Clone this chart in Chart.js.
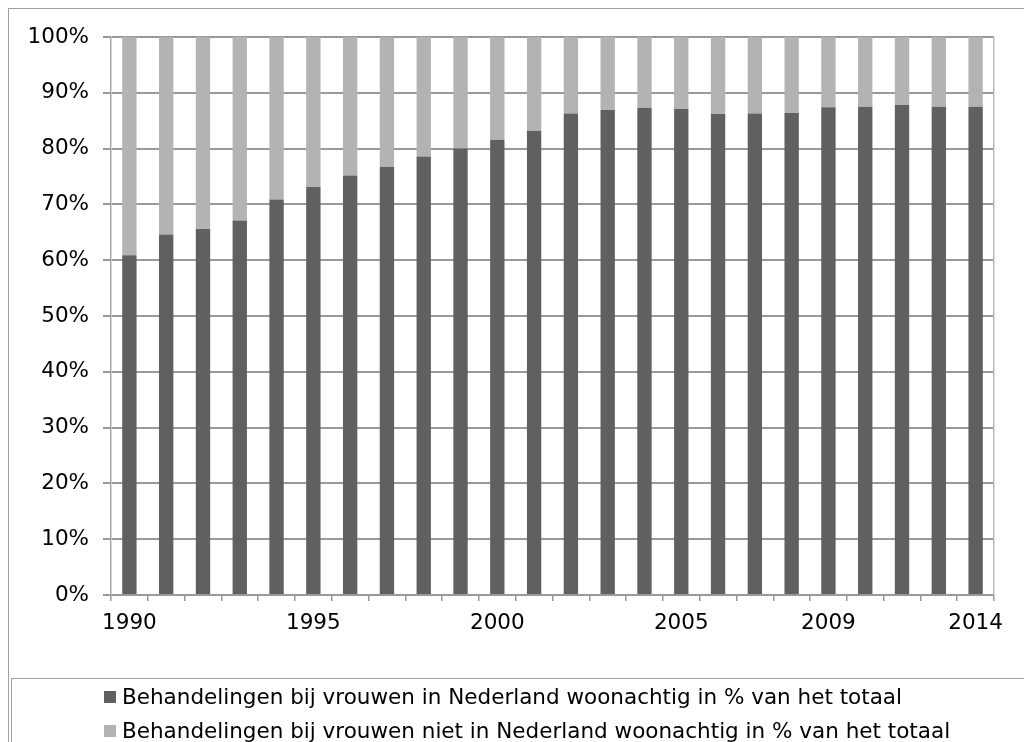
<!DOCTYPE html>
<html>
<head>
<meta charset="utf-8">
<script src="https://cdn.jsdelivr.net/npm/chart.js@4/dist/chart.umd.min.js"></script>
<style>
  html, body { margin: 0; padding: 0; background: #fff; }
  body { width: 1024px; height: 742px; position: relative; overflow: hidden; font-family: "DejaVu Sans", Verdana, sans-serif; }
  #c { position: absolute; left: 0; top: 0; }
  #outer { position: absolute; left: 8px; top: 8px; width: 1040px; height: 760px; border: 1.5px solid #a0a0a0; box-sizing: border-box; pointer-events: none; }
  #legbox { position: absolute; left: 11px; top: 678px; width: 1040px; height: 100px; border-top: 1.5px solid #a0a0a0; border-left: 1.5px solid #a0a0a0; box-sizing: border-box; pointer-events: none; }
  #legend { position: absolute; left: 104px; top: 680px; }
  .row { height: 34px; line-height: 34px; white-space: nowrap; font-size: 21.5px; color: #000; display: flex; align-items: center; }
  .sw { display: inline-block; width: 12px; height: 12px; margin-right: 6px; }
</style>
</head>
<body>
<canvas id="c" width="1024" height="742"></canvas>
<div id="outer"></div>
<div id="legbox"></div>
<div id="legend"></div>
<script>
// Category tick labels (only some categories carry a visible label)
const categories = ['1990','','','','','1995','','','','','2000','','','','','2005','','','','2009','','','','2014'];

// Series names
const seriesNames = [
  'Behandelingen bij vrouwen in Nederland woonachtig in % van het totaal',
  'Behandelingen bij vrouwen niet in Nederland woonachtig in % van het totaal'
];

// Values (percent of total)
const residentShare = [60.9, 64.6, 65.6, 67.1, 70.9, 73.1, 75.2, 76.7, 78.6, 80.0, 81.6, 83.2, 86.3, 86.9, 87.3, 87.1, 86.2, 86.3, 86.4, 87.4, 87.5, 87.8, 87.5, 87.5];
const nonResidentShare = [39.1, 35.4, 34.4, 32.9, 29.1, 26.9, 24.8, 23.3, 21.4, 20.0, 18.4, 16.8, 13.7, 13.1, 12.7, 12.9, 13.8, 13.7, 13.6, 12.6, 12.5, 12.2, 12.5, 12.5];

const colors = ['#606060', '#b3b3b3'];
const FONT = { family: 'DejaVu Sans', size: 21.5 };

const chart = new Chart(document.getElementById('c'), {
  type: 'bar',
  data: {
    labels: categories,
    datasets: [
      { label: seriesNames[0], data: residentShare, backgroundColor: colors[0], barPercentage: 0.39, categoryPercentage: 1 },
      { label: seriesNames[1], data: nonResidentShare, backgroundColor: colors[1], barPercentage: 0.39, categoryPercentage: 1 }
    ]
  },
  options: {
    responsive: false,
    animation: false,
    layout: { padding: { left: 0, top: 37, right: 30, bottom: 0 } },
    plugins: { legend: { display: false }, tooltip: { enabled: false } },
    scales: {
      x: {
        stacked: true,
        offset: true,
        grid: { offset: true, drawOnChartArea: false, drawTicks: true, tickLength: 6, color: '#999', lineWidth: 1.5 },
        border: { color: '#999', width: 2 },
        ticks: { autoSkip: false, maxRotation: 0, minRotation: 0, color: '#000', font: FONT, padding: 10 },
        afterFit(a) { a.height = 147; }
      },
      y: {
        stacked: true,
        min: 0, max: 100,
        grid: { color: '#999', lineWidth: 2, tickLength: 8 },
        border: { color: '#aaa', width: 1.5 },
        ticks: { stepSize: 10, color: '#000', font: FONT, padding: 14, callback: v => v + '%' },
        afterFit(a) { a.width = 111; }
      },
      y2: {
        position: 'right',
        min: 0, max: 100,
        grid: { drawOnChartArea: false, drawTicks: false },
        border: { color: '#bbb', width: 1.5 },
        ticks: { display: false },
        afterFit(a) { a.width = 0; }
      }
    }
  }
});

// HTML legend built from the chart's datasets
const leg = document.getElementById('legend');
chart.data.datasets.forEach(ds => {
  const row = document.createElement('div');
  row.className = 'row';
  const sw = document.createElement('span');
  sw.className = 'sw';
  sw.style.background = ds.backgroundColor;
  const t = document.createElement('span');
  t.textContent = ds.label;
  row.appendChild(sw);
  row.appendChild(t);
  leg.appendChild(row);
});
</script>
</body>
</html>
